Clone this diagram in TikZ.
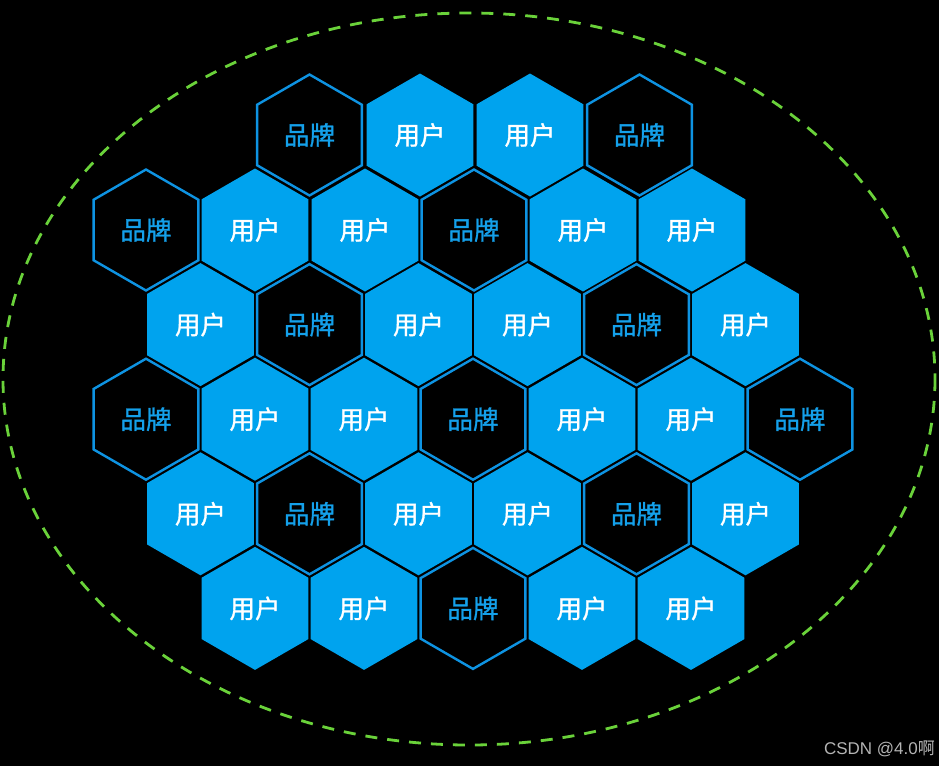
\documentclass[tikz,border=0pt]{standalone}
\usepackage{fontspec}
\newfontfamily\cjk[FakeBold=1.2]{Noto Sans CJK SC}
\newfontfamily\cjkplain{Noto Sans CJK SC}
\newfontfamily\marklatin{Liberation Sans}
\definecolor{hexblue}{HTML}{00A3EE}
\definecolor{lineblue}{HTML}{0E93E2}
\definecolor{textblue}{HTML}{14A0EA}
\definecolor{dashgreen}{HTML}{6AD23A}
\definecolor{markgray}{HTML}{B4B4B4}
\tikzset{
  userhex/.style={fill=hexblue},
  brandhex/.style={fill=black, draw=lineblue, line width=2.4pt, line join=miter},
  usertext/.style={text=white, font=\cjk\fontsize{25.5}{25.5}\selectfont},
  brandtext/.style={text=textblue, font=\cjk\fontsize{25.5}{25.5}\selectfont},
}
\begin{document}
\begin{tikzpicture}[x=1pt,y=-1pt]
\fill[black] (0,0) rectangle (939,766);
\useasboundingbox (0,0) rectangle (939,766);
\draw[dashgreen, line width=2.8pt, dash pattern=on 12pt off 10pt] (469,379) ellipse [x radius=466, y radius=366];
% user hexagons
\foreach \n/\x/\y in {
 u1/420/135, u2/530/135,
 u3/255/230, u4/365/230, u5/583/230, u6/692/230,
 u7/200.5/324.6, u8/418.5/324.6, u9/527.5/324.6, u10/745.5/324.6,
 u11/255/419.2, u12/364/419.2, u13/582/419.2, u14/691/419.2,
 u15/200.5/513.8, u16/418.5/513.8, u17/527.5/513.8, u18/745.5/513.8,
 u19/255/608.4, u20/364/608.4, u21/582/608.4, u22/691/608.4}{
  \fill[userhex] (\x,\y) +(90:61.5) -- +(150:61.5) -- +(210:61.5) -- +(270:61.5) -- +(330:61.5) -- +(30:61.5) -- cycle;
  \node[usertext] (\n) at (\x,\y) {用户};
}
% brand hexagons
\foreach \n/\x/\y in {
 b1/309.5/135, b2/639.5/135,
 b3/146/230, b4/474/230,
 b5/309.5/324.6, b6/636.5/324.6,
 b7/146/419.2, b8/473/419.2, b9/800/419.2,
 b10/309.5/513.8, b11/636.5/513.8,
 b12/473/608.4}{
  \draw[brandhex] (\x,\y) +(90:60.5) -- +(150:60.5) -- +(210:60.5) -- +(270:60.5) -- +(330:60.5) -- +(30:60.5) -- cycle;
  \node[brandtext] (\n) at (\x,\y) {品牌};
}
\node[text=markgray, font=\marklatin\fontsize{17}{17}\selectfont, anchor=east, inner sep=0pt] (mark) at (935,749) {CSDN @4.0{\cjkplain 啊}};
\end{tikzpicture}
\end{document}
